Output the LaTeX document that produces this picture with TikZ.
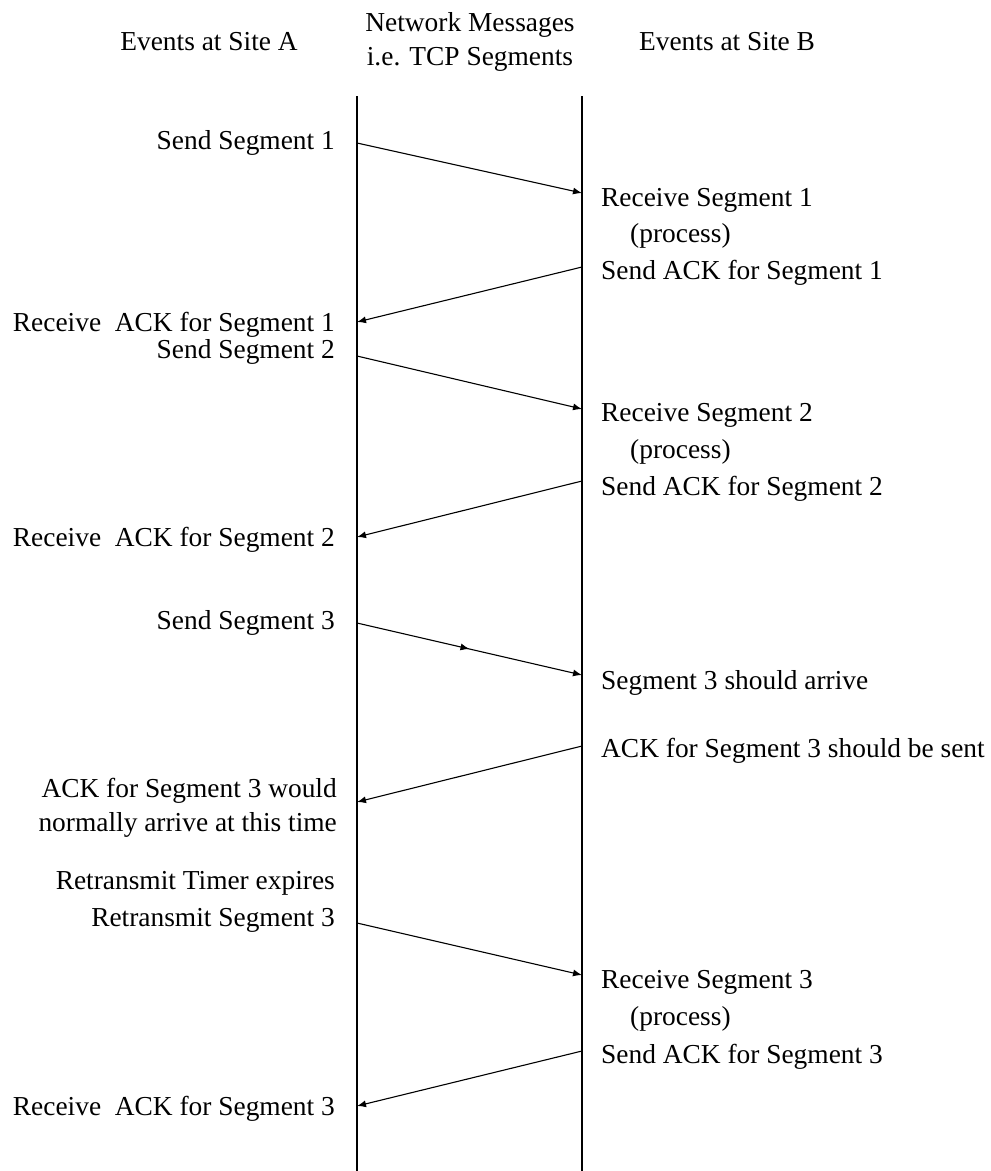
\documentclass[tikz,border=0pt]{standalone}
\usepackage{fontspec}
\setmainfont{Liberation Serif}
\usetikzlibrary{arrows.meta,decorations.markings}
\begin{document}
\begin{tikzpicture}[x=1pt,y=-1pt,
  lbl/.style={font=\fontsize{27.4}{34}\selectfont, inner sep=0pt},
  aevt/.style={lbl, anchor=east, align=right, yshift=-2pt},
  bevt/.style={lbl, anchor=west, align=left, yshift=-2pt},
  life/.style={line width=1.6pt},
  tip/.style={Latex[length=9pt,width=7pt]},
  msg/.style={line width=1.1pt, -{Latex[length=9pt,width=7pt]}},
  midmsg/.style={msg, postaction={decorate},
    decoration={markings, mark=at position 0.5 with {\arrow{Latex[length=9pt,width=7pt]}}}}
]
\useasboundingbox (0,0) rectangle (991,1171);

% column headings
\node[lbl] (hA) at (209,42) {Events at Site A};
\node[lbl, align=center] (hN) at (470,42) {Network Messages\\i.e. TCP Segments};
\node[lbl] (hB) at (727,42) {Events at Site B};

% time lines of the two sites
\coordinate (Atop) at (357,96);  \coordinate (Abot) at (357,1171);
\coordinate (Btop) at (582,96);  \coordinate (Bbot) at (582,1171);
\draw[life] (Atop) -- (Abot);
\draw[life] (Btop) -- (Bbot);

% segment 1
\node[aevt] (sendA1) at (335,141) {Send Segment 1};
\node[bevt] (recvB1) at (601,198) {Receive Segment 1};
\node[bevt] (procB1) at (630,234) {(process)};
\node[bevt] (ackB1)  at (601,271) {Send ACK for Segment 1};
\node[aevt] (ackA1)  at (335,323) {Receive\ \ ACK for Segment 1};
\coordinate (s1a) at (357,143); \coordinate (s1b) at (582,193);
\coordinate (k1b) at (582,267); \coordinate (k1a) at (357,322);
\draw[msg] (s1a) -- (s1b);
\draw[msg] (k1b) -- (k1a);

% segment 2
\node[aevt] (sendA2) at (335,350) {Send Segment 2};
\node[bevt] (recvB2) at (601,413) {Receive Segment 2};
\node[bevt] (procB2) at (630,450) {(process)};
\node[bevt] (ackB2)  at (601,487) {Send ACK for Segment 2};
\node[aevt] (ackA2)  at (335,538) {Receive\ \ ACK for Segment 2};
\coordinate (s2a) at (357,356); \coordinate (s2b) at (582,409);
\coordinate (k2b) at (582,481); \coordinate (k2a) at (357,537);
\draw[msg] (s2a) -- (s2b);
\draw[msg] (k2b) -- (k2a);

% segment 3 (lost)
\node[aevt] (sendA3) at (335,621) {Send Segment 3};
\node[bevt] (recvB3) at (601,681) {Segment 3 should arrive};
\node[bevt] (ackB3)  at (601,749) {ACK for Segment 3 should be sent};
\node[aevt] (ackA3)  at (337,806) {ACK for Segment 3 would\\normally arrive at this time};
\coordinate (s3a) at (357,623); \coordinate (s3b) at (582,675);
\coordinate (k3b) at (582,746); \coordinate (k3a) at (357,802);
\draw[midmsg] (s3a) -- (s3b);
\draw[msg] (k3b) -- (k3a);

% retransmission of segment 3
\node[aevt] (timer)  at (335,881) {Retransmit Timer expires};
\node[aevt] (resend) at (335,918) {Retransmit Segment 3};
\node[bevt] (recvR)  at (601,980) {Receive Segment 3};
\node[bevt] (procR)  at (630,1017) {(process)};
\node[bevt] (ackBR)  at (601,1055) {Send ACK for Segment 3};
\node[aevt] (ackAR)  at (335,1107) {Receive\ \ ACK for Segment 3};
\coordinate (rsa) at (357,923);  \coordinate (rsb) at (582,975);
\coordinate (rkb) at (582,1051); \coordinate (rka) at (357,1106);
\draw[msg] (rsa) -- (rsb);
\draw[msg] (rkb) -- (rka);
\end{tikzpicture}
\end{document}
